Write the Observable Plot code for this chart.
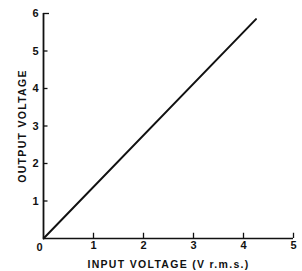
<!DOCTYPE html>
<html>
<head>
<meta charset="utf-8">
<script src="https://cdn.jsdelivr.net/npm/d3@7"></script>
<script src="https://cdn.jsdelivr.net/npm/@observablehq/plot@0.6"></script>
<style>
  body { margin: 0; background: #fff; }
</style>
</head>
<body>
<div id="chart"></div>
<script>
const inputVoltage = [0, 4.25];
const outputVoltage = [0, 5.85];
const xTicks = [1, 2, 3, 4, 5];
const yTicks = [1, 2, 3, 4, 5, 6];
const xLabel = "INPUT VOLTAGE (V r.m.s.)";
const yLabel = "OUTPUT VOLTAGE";

const line = inputVoltage.map((x, i) => ({x, y: outputVoltage[i]}));

const chart = Plot.plot({
  width: 302,
  height: 271,
  marginLeft: 43,
  marginTop: 13,
  marginBottom: 33,
  marginRight: 9,
  style: {fontFamily: "'Liberation Sans', Arial, sans-serif", background: "#fff", color: "#111"},
  x: {domain: [0, 5]},
  y: {domain: [0, 6]},
  marks: [
    Plot.ruleY([0], {x1: 0, x2: 5, stroke: "#111", strokeWidth: 1.5}),
    Plot.ruleX([0], {y1: 0, y2: 6, stroke: "#111", strokeWidth: 1.8}),
    Plot.ruleX(xTicks, {x: d => d, y1: 0, y2: 0.14, stroke: "#111", strokeWidth: 1.3}),
    Plot.ruleY(yTicks, {y: d => d, x1: 0, x2: d => d === 6 ? 0.12 : 0.09, stroke: "#111", strokeWidth: 1.3}),
    Plot.axisX(xTicks, {tickSize: 0, tickPadding: 3, fontSize: 11, fontWeight: "bold", label: xLabel, labelAnchor: "center", labelArrow: "none", labelOffset: 29}),
    Plot.axisY(yTicks, {tickSize: 0, tickPadding: 5, fontSize: 11, fontWeight: "bold", label: yLabel, labelAnchor: "center", labelArrow: "none", labelOffset: 25}),
    Plot.text([0], {x: 0, y: 0, text: () => "0", dx: -4, dy: 9, fontSize: 11, fontWeight: "bold"}),
    Plot.line(line, {x: "x", y: "y", stroke: "#111", strokeWidth: 2})
  ]
});
document.getElementById("chart").append(chart);
chart.querySelectorAll("g[aria-label='x-axis tick label'], g[aria-label='y-axis tick label'], g[aria-label='text']").forEach(g => {
  g.setAttribute("font-weight", "bold");
});
chart.querySelectorAll("g[aria-label='x-axis label'] text, g[aria-label='y-axis label'] text").forEach(t => {
  t.setAttribute("font-size", "10.5");
  t.setAttribute("letter-spacing", "1.3");
});
</script>
</body>
</html>
